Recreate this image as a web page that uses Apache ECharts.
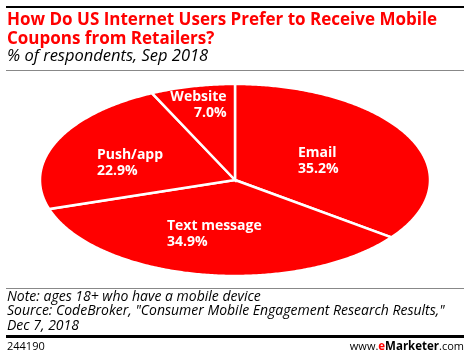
<!DOCTYPE html>
<html><head><meta charset="utf-8">
<script src="https://cdn.jsdelivr.net/npm/echarts@6/dist/echarts.min.js"></script>
<style>html,body{margin:0;padding:0;background:#fff}#c{width:470px;height:358px}</style>
</head><body><div id="c"></div>
<script>
const categories = ['Email', 'Text message', 'Push/app', 'Website'];
const values = [35.2, 34.9, 22.9, 7.0];
const valueLabels = ['35.2%', '34.9%', '22.9%', '7.0%'];

// layout (not data)
const PIE = { cx: 235, cy: 180, rx: 195, ry: 96 };
const LABEL_LAYOUT = [
  { dx: 0.323, dy: -0.20, align: 'left' },
  { dx: -0.349, dy: 0.5625, align: 'left' },
  { dx: -0.708, dy: -0.182, align: 'left' },
  { dx: -0.043, dy: -0.776, align: 'right' }
];
const RED = '#ff0000';
const FONT = '"Open Sans", Lato, sans-serif';

const total = values.reduce((a, b) => a + b, 0);
const starts = [];
let acc = 0;
values.forEach(v => { starts.push(acc); acc += v; });

const chart = echarts.init(document.getElementById('c'), null, { renderer: 'canvas' });

function renderItem(params, api) {
  const i = params.dataIndex;
  const v = api.value(0);
  const a0 = starts[i] / total * Math.PI * 2;
  const a1 = (starts[i] + v) / total * Math.PI * 2;
  const pts = [[PIE.cx, PIE.cy]];
  const n = Math.max(8, Math.ceil((a1 - a0) / 0.01));
  for (let k = 0; k <= n; k++) {
    const t = a0 + (a1 - a0) * k / n;
    pts.push([PIE.cx + PIE.rx * Math.sin(t), PIE.cy - PIE.ry * Math.cos(t)]);
  }
  const L = LABEL_LAYOUT[i];
  return {
    type: 'group',
    children: [
      { type: 'polygon', shape: { points: pts },
        style: { fill: RED, stroke: '#fff', lineWidth: 2.5, lineJoin: 'miter' } },
      { type: 'text', z2: 10,
        x: PIE.cx + L.dx * PIE.rx, y: PIE.cy + L.dy * PIE.ry,
        style: { text: categories[i] + '\n' + valueLabels[i], fill: '#fff',
          font: 'bold 14px ' + FONT, lineHeight: 16,
          align: L.align, verticalAlign: 'middle' } }
    ]
  };
}

chart.setOption({
  animation: false,
  series: [{
    type: 'custom',
    coordinateSystem: 'none',
    renderItem: renderItem,
    data: values.map(v => [v])
  }],
  graphic: [
    { type: 'rect', shape: { x: 6, y: 6, width: 458, height: 2 }, style: { fill: '#000' } },
    { type: 'text', x: 7, y: 11, style: { text: 'How Do US Internet Users Prefer to Receive Mobile\nCoupons from Retailers?',
        font: 'bold 17px ' + FONT, fill: RED, lineHeight: 19 } },
    { type: 'text', x: 7, y: 48, style: { text: '% of respondents, Sep 2018',
        font: 'italic 16.5px ' + FONT, fill: '#000' } },
    { type: 'rect', shape: { x: 6, y: 70, width: 458, height: 1 }, style: { fill: '#888' } },
    { type: 'rect', shape: { x: 6, y: 288, width: 458, height: 1 }, style: { fill: '#888' } },
    { type: 'text', x: 7, y: 290, style: { text: 'Note: ages 18+ who have a mobile device\nSource: CodeBroker, "Consumer Mobile Engagement Research Results,"\nDec 7, 2018',
        font: 'italic 14px ' + FONT, fill: '#000', lineHeight: 14.3 } },
    { type: 'rect', shape: { x: 6, y: 335, width: 458, height: 3 }, style: { fill: '#000' } },
    { type: 'text', x: 7, y: 347, style: { text: '244190', font: '11px ' + FONT, fill: '#000', verticalAlign: 'middle' } },
    { type: 'text', x: 464, y: 347, style: {
        text: '{a|www.}{e|e}{b|Marketer}{a|.com}', align: 'right', verticalAlign: 'middle',
        rich: {
          a: { font: '11px ' + FONT, fill: '#000' },
          e: { font: 'bold 11.5px ' + FONT, fill: RED },
          b: { font: 'bold 11.5px ' + FONT, fill: '#000' }
        } } }
  ]
});
</script></body></html>
